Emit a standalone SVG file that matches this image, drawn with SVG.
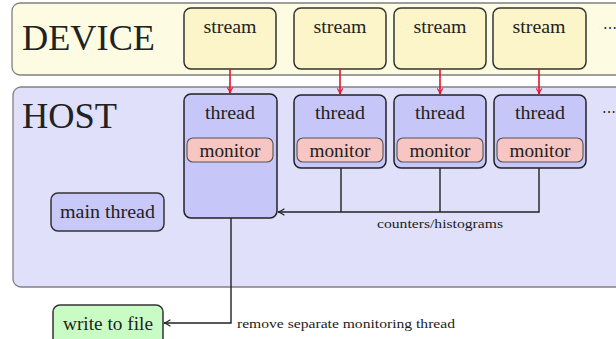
<svg xmlns="http://www.w3.org/2000/svg" width="616" height="339" viewBox="0 0 616 339">
<defs>
<style>
text{font-family:"Liberation Serif","DejaVu Serif",serif;fill:#222;}
.panel{stroke:#808080;stroke-width:1.3;}
.stream{fill:#fbf5c9;stroke:#333;stroke-width:1.5;}
.thread{fill:#c6c6f8;stroke:#222;stroke-width:1.5;}
.mon{fill:#f7c6c3;stroke:#555;stroke-width:1.1;}
.main{fill:#c8c8f9;stroke:#333;stroke-width:1.5;}
.file{fill:#c9fbc5;stroke:#333;stroke-width:1.5;}
.big{font-size:36px;}
.lbl{font-size:18px;text-anchor:middle;}
.small{font-size:12.5px;}
.red{stroke:#e3132c;stroke-width:1.6;fill:none;}
.blk{stroke:#222;stroke-width:1.4;fill:none;}
</style>
<marker id="ra" viewBox="0 0 10 10" refX="9" refY="5" markerWidth="7" markerHeight="7" orient="auto" markerUnits="userSpaceOnUse">
<path d="M1,1 Q5,4 9,5 Q5,6 1,9" fill="none" stroke="#e3132c" stroke-width="1.6"/>
</marker>
<marker id="ba" viewBox="0 0 10 10" refX="9" refY="5" markerWidth="8" markerHeight="8" orient="auto" markerUnits="userSpaceOnUse">
<path d="M1,1 Q5,4 9,5 Q5,6 1,9" fill="none" stroke="#222" stroke-width="1.5"/>
</marker>
</defs>
<rect x="0" y="0" width="616" height="339" fill="#fff"/>
<g id="device">
<rect class="panel" x="12" y="3" width="620" height="72" rx="8" fill="#fdfce3"/>
<text class="big" x="22" y="50" textLength="133" lengthAdjust="spacingAndGlyphs">DEVICE</text>
<text x="603" y="33" font-size="14">⋯</text>
</g>
<g id="host">
<rect class="panel" x="13" y="87" width="620" height="200" rx="8" fill="#e0e0fb"/>
<text class="big" x="22" y="128" textLength="95" lengthAdjust="spacingAndGlyphs">HOST</text>
<text x="602" y="117" font-size="14">⋯</text>
</g>
<g id="stream1"><rect class="stream" x="184" y="8" width="92" height="61" rx="7"/><text class="lbl" x="230" y="33" textLength="53" lengthAdjust="spacingAndGlyphs">stream</text></g>
<g id="stream2"><rect class="stream" x="294" y="8" width="92" height="61" rx="7"/><text class="lbl" x="340" y="33" textLength="53" lengthAdjust="spacingAndGlyphs">stream</text></g>
<g id="stream3"><rect class="stream" x="394" y="8" width="92" height="61" rx="7"/><text class="lbl" x="440" y="33" textLength="53" lengthAdjust="spacingAndGlyphs">stream</text></g>
<g id="stream4"><rect class="stream" x="493" y="8" width="93" height="61" rx="7"/><text class="lbl" x="539" y="33" textLength="53" lengthAdjust="spacingAndGlyphs">stream</text></g>
<g id="thread1"><rect class="thread" x="184" y="94" width="93" height="124" rx="7"/><text class="lbl" x="230" y="119" textLength="50" lengthAdjust="spacingAndGlyphs">thread</text>
<g id="monitor1"><rect class="mon" x="187" y="138" width="86" height="24" rx="6"/><text class="lbl" x="230" y="157" textLength="61" lengthAdjust="spacingAndGlyphs">monitor</text></g></g>
<g id="thread2"><rect class="thread" x="294" y="95" width="92" height="73" rx="7"/><text class="lbl" x="340" y="119" textLength="50" lengthAdjust="spacingAndGlyphs">thread</text>
<g id="monitor2"><rect class="mon" x="297" y="138" width="86" height="24" rx="6"/><text class="lbl" x="340" y="157" textLength="61" lengthAdjust="spacingAndGlyphs">monitor</text></g></g>
<g id="thread3"><rect class="thread" x="394" y="95" width="92" height="73" rx="7"/><text class="lbl" x="440" y="119" textLength="50" lengthAdjust="spacingAndGlyphs">thread</text>
<g id="monitor3"><rect class="mon" x="397" y="138" width="86" height="24" rx="6"/><text class="lbl" x="440" y="157" textLength="61" lengthAdjust="spacingAndGlyphs">monitor</text></g></g>
<g id="thread4"><rect class="thread" x="494" y="95" width="92" height="73" rx="7"/><text class="lbl" x="540" y="119" textLength="50" lengthAdjust="spacingAndGlyphs">thread</text>
<g id="monitor4"><rect class="mon" x="497" y="138" width="86" height="24" rx="6"/><text class="lbl" x="540" y="157" textLength="61" lengthAdjust="spacingAndGlyphs">monitor</text></g></g>
<g id="mainthread"><rect class="main" x="51" y="193" width="113" height="38" rx="7"/><text class="lbl" x="107.5" y="218" textLength="95" lengthAdjust="spacingAndGlyphs">main thread</text></g>
<g id="writefile"><rect class="file" x="53" y="305" width="110" height="44" rx="7"/><text class="lbl" x="108" y="330" textLength="90" lengthAdjust="spacingAndGlyphs">write to file</text></g>
<g id="connectors">
<path class="red" d="M230,69 V93" marker-end="url(#ra)"/>
<path class="red" d="M340,69 V94" marker-end="url(#ra)"/>
<path class="red" d="M440,69 V94" marker-end="url(#ra)"/>
<path class="red" d="M539,69 V94" marker-end="url(#ra)"/>
<path class="blk" d="M341,168 V212 M440,168 V212 M539,168 V212 H341"/>
<path class="blk" d="M341,212 H278" marker-end="url(#ba)"/>
<path class="blk" d="M231,218 V323 H164" marker-end="url(#ba)"/>
<text class="small" x="377" y="228" textLength="126" lengthAdjust="spacingAndGlyphs">counters/histograms</text>
<text class="small" x="237" y="328" textLength="218" lengthAdjust="spacingAndGlyphs">remove separate monitoring thread</text>
</g>
</svg>
